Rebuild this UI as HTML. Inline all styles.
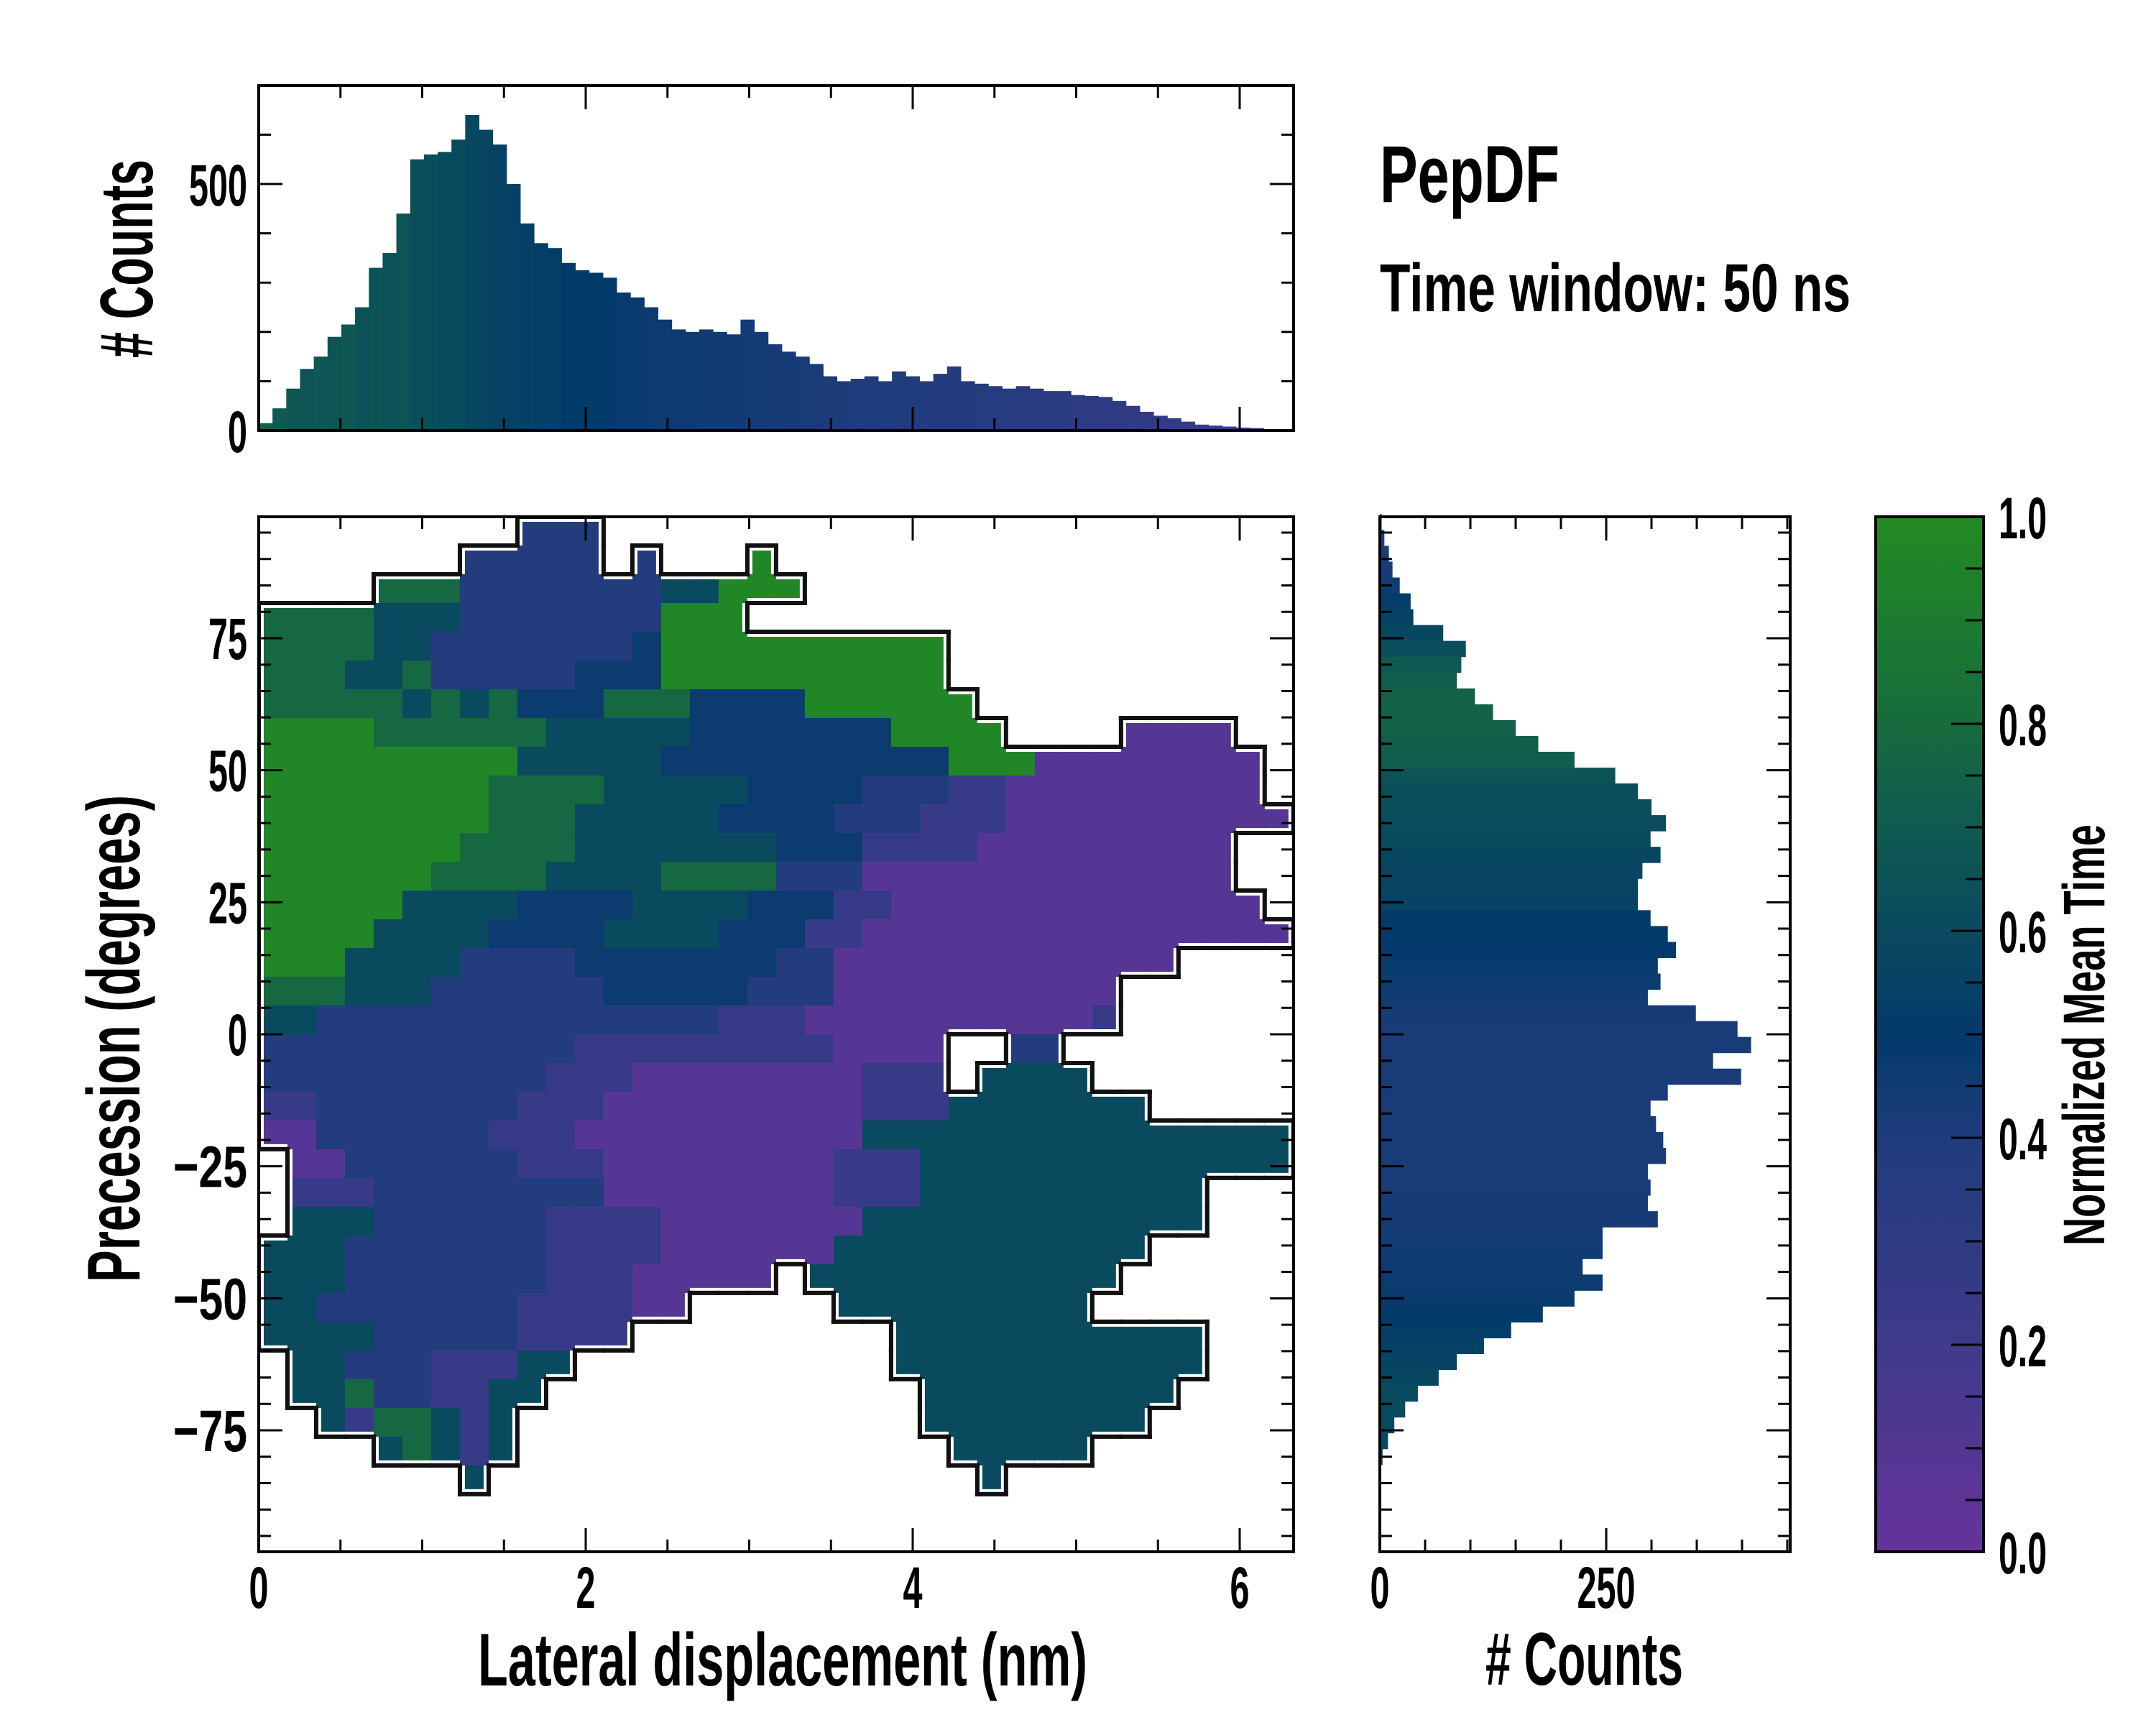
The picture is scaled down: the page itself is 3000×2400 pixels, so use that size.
<!DOCTYPE html>
<html><head><meta charset="utf-8"><style>
html,body{margin:0;padding:0;background:#fff;}
svg{display:block;}
text{font-family:"Liberation Sans Narrow","Liberation Sans",sans-serif;font-weight:bold;fill:#000;}
</style></head><body>
<svg id="fig" xmlns="http://www.w3.org/2000/svg" width="3000" height="2400" viewBox="0 0 3000 2400">
<defs>
<linearGradient id="cmap" x1="0" y1="1" x2="0" y2="0">
<stop offset="0" stop-color="#66339a"/><stop offset="0.2" stop-color="#3f3a8a"/><stop offset="0.4" stop-color="#1f3c7c"/><stop offset="0.5" stop-color="#023a6a"/><stop offset="0.6" stop-color="#0a4a5e"/><stop offset="0.7" stop-color="#0f5a50"/><stop offset="0.8" stop-color="#176b3d"/><stop offset="1" stop-color="#228b22"/>
</linearGradient>
</defs>
<g id="heat"></g>
<g id="edgesw"></g>
<g id="edges"></g>
<g id="tophist"></g>
<g id="righthist"></g>
<rect x="2610" y="719" width="150" height="1440" fill="url(#cmap)" stroke="#000" stroke-width="4"/>
<g id="axes"></g>
<text x="1920" y="281" font-size="112" textLength="250" lengthAdjust="spacingAndGlyphs">PepDF</text>
<text x="1920" y="433" font-size="95" textLength="655" lengthAdjust="spacingAndGlyphs">Time window: 50 ns</text>
<text x="665" y="2345" font-size="104" textLength="848" lengthAdjust="spacingAndGlyphs">Lateral displacement (nm)</text>
<text x="2067" y="2344" font-size="104" textLength="275" lengthAdjust="spacingAndGlyphs"># Counts</text>
<text transform="translate(194,1784) rotate(-90)" font-size="104" textLength="678" lengthAdjust="spacingAndGlyphs">Precession (degrees)</text>
<text transform="translate(212,498) rotate(-90)" font-size="104" textLength="276" lengthAdjust="spacingAndGlyphs"># Counts</text>
<text transform="translate(2928,1733) rotate(-90)" font-size="82" textLength="586" lengthAdjust="spacingAndGlyphs">Normalized Mean Time</text>
</svg>
<script>
// ---- data ----
const gridRows = [
".........nnn........................",
".......nnnnn.n...g..................",
"....GGGnnnnnnnttggg.................",
"GGGGtttnnnnnnnggg...................",
"GGGGttnnnnnnnbgggggggggg............",
"GGGttGnnnnnbbbgggggggggg............",
"GGGGGtGtGbbbGGGbbbbgggggg...........",
"ggggGGGGGGtttttbbbbbbbgggg....pppp..",
"gggggggggtttttbbbbbbbbbbgggpppppppp.",
"ggggggggGGGGtttttbbbbnnnvvppppppppp.",
"ggggggggGGGtttttbbbbnnnvvvpppppppppp",
"gggggggGGGGtttttttbbbvvvvppppppppp..",
"ggggggGGGGttttGGGGnnnppppppppppppp..",
"gggggttttbbbbttttbbbvvppppppppppppp.",
"ggggttttbbbbttttbbbvvppppppppppppppp",
"gggttttnnnnbbbbbbbnnpppppppppppp....",
"GGGtttnnnnnnbbbbbnnnpppppppppp......",
"ttnnnnnnnnnnnnnnvvvppppppppppv......",
"nnnnnnnnnnnvvvvvvvvvpppp..nn........",
"nnnnnnnnnnvvvppppppppvvv.tttt.......",
"vvnnnnnnnvvvpppppppppvvvttttttt.....",
"ppnnnnnnvvvppppppppppttttttttttttttt",
".ppnnnnnnvvvppppppppvvvttttttttttttt",
".vvvnnnnnnnnppppppppvvvtttttttttt...",
".tttnnnnnnvvvvppppppptttttttttttt....",
"tttnnnnnnnvvvvppppppttttttttttt.....",
"tttnnnnnnnvvvppppp.ttttttttttt......",
"ttnnnnnnnvvvvpp.....ttttttttt.......",
"ttttnnnnnvvvv.........ttttttttttt...",
".ttnnnvvvtt...........ttttttttttt...",
".ttGnnvvtt.............ttttttttt....",
"..tvGGtvt..............tttttttt.....",
"....tGtvt...............ttttt.......",
".......t.................t..........",
"....................................",
"...................................."
];
const levelValues = {p:0.08, v:0.25, n:0.38, b:0.47, t:0.6, G:0.78, g:0.97};
const cellNm = 0.1758, cellDeg = 5.444;

const topCounts = [15,45,85,125,150,190,215,250,330,360,440,550,560,565,590,640,610,580,500,420,380,370,340,325,320,310,280,270,250,225,205,200,205,200,195,225,200,175,160,150,135,110,100,105,110,100,120,110,100,115,130,100,95,90,85,90,85,80,80,72,70,68,60,50,38,30,25,18,12,10,8,6,5,3];
const topMeanTime = [0.72,0.7,0.68,0.66,0.68,0.66,0.68,0.64,0.66,0.64,0.66,0.63,0.62,0.6,0.6,0.58,0.57,0.55,0.54,0.53,0.52,0.52,0.5,0.5,0.5,0.49,0.48,0.48,0.47,0.47,0.46,0.46,0.45,0.45,0.45,0.44,0.44,0.43,0.43,0.42,0.42,0.41,0.41,0.4,0.4,0.4,0.39,0.39,0.38,0.38,0.37,0.37,0.36,0.36,0.35,0.35,0.34,0.34,0.33,0.32,0.32,0.31,0.3,0.3,0.29,0.28,0.27,0.26,0.25,0.25,0.24,0.24,0.23,0.22];
const topBinNm = 0.0842;

const rightCenters = [97,94,91,88,85,82,79,76,73,70,67,64,61,58,55,52,49,46,43,40,37,34,31,28,25,22,19,16,13,10,7,4,1,-2,-5,-8,-11,-14,-17,-20,-23,-26,-29,-32,-35,-38,-41,-44,-47,-50,-53,-56,-59,-62,-65,-68,-71,-74,-77,-80];
const rightCounts = [2,5,10,14,22,34,37,70,95,90,85,105,125,150,175,215,260,285,300,316,299,310,290,285,285,299,318,327,307,310,296,349,395,410,368,399,318,299,305,313,316,296,299,296,307,246,246,224,246,215,180,145,115,85,65,42,28,16,9,3];
const rightMeanTime = [0.4,0.4,0.42,0.42,0.45,0.52,0.55,0.58,0.62,0.7,0.72,0.74,0.75,0.74,0.73,0.72,0.66,0.63,0.62,0.61,0.6,0.58,0.57,0.57,0.56,0.5,0.5,0.49,0.48,0.47,0.45,0.43,0.42,0.42,0.42,0.42,0.42,0.42,0.42,0.42,0.42,0.42,0.42,0.43,0.43,0.44,0.45,0.46,0.47,0.48,0.5,0.52,0.54,0.56,0.58,0.6,0.6,0.6,0.58,0.58];
const rightBinDeg = 3;

const xTickLabels = ["0","2","4","6"];
const yTickLabels = ["−75","−50","−25","0","25","50","75"];
const topTickLabels = ["0","500"];
const rightTickLabels = ["0","250"];
const cbarTickLabels = ["0.0","0.2","0.4","0.6","0.8","1.0"];

// ---- scales ----
const X0=360, X1=1800, Y0=719, Y1=2159;
const TY0=119, TY1=599;
const xMain = v => X0 + v*227.5;
const yMain = d => 1439 - d*7.347;
const yTop = c => TY1 - c*0.686;
const xRight = c => 1920 + c*1.26;
const yCbar = t => Y1 - t*(Y1-Y0);

const stops=[[0,[0x66,0x33,0x9a]],[0.2,[0x3f,0x3a,0x8a]],[0.4,[0x1f,0x3c,0x7c]],[0.5,[0x02,0x3a,0x6a]],[0.6,[0x0a,0x4a,0x5e]],[0.7,[0x0f,0x5a,0x50]],[0.8,[0x17,0x6b,0x3d]],[1,[0x22,0x8b,0x22]]];
function cmap(t){t=Math.max(0,Math.min(1,t));for(let i=1;i<stops.length;i++){if(t<=stops[i][0]){const a=stops[i-1],b=stops[i];const f=(t-a[0])/(b[0]-a[0]);const c=a[1].map((v,k)=>Math.round(v+(b[1][k]-v)*f));return `rgb(${c[0]},${c[1]},${c[2]})`;}}return 'rgb(34,139,34)';}

const NS="http://www.w3.org/2000/svg";
function mk(tag,attrs,parent){const e=document.createElementNS(NS,tag);for(const k in attrs)e.setAttribute(k,attrs[k]);parent.appendChild(e);return e;}

// ---- heatmap ----
const heat=document.getElementById('heat');
const edges=document.getElementById('edges');
const edgesw=document.getElementById('edgesw');
const filled=(r,c)=>r>=0&&r<gridRows.length&&c>=0&&c<gridRows[r].length&&gridRows[r][c]!=='.';
gridRows.forEach((row,r)=>{
  for(let c=0;c<row.length;c++){
    const ch=row[c]; if(ch==='.')continue;
    const x=xMain(c*cellNm), y=yMain(98-r*cellDeg);
    const w=xMain((c+1)*cellNm)-x, h=yMain(98-(r+1)*cellDeg)-y;
    const cell=mk('rect',{x:x,y:y,width:w+0.6,height:h+0.6,fill:cmap(levelValues[ch])},heat);
    
    
    const segs=[];
    if(!filled(r-1,c))segs.push([x,y,x+w,y,0,5]);
    if(!filled(r+1,c))segs.push([x,y+h,x+w,y+h,0,-5]);
    if(!filled(r,c-1))segs.push([x,y,x,y+h,5,0]);
    if(!filled(r,c+1))segs.push([x+w,y,x+w,y+h,-5,0]);
    segs.forEach(s=>{
      const wl=mk('line',{x1:s[0]+s[4],y1:s[1]+s[5],x2:s[2]+s[4],y2:s[3]+s[5],stroke:'#fff','stroke-width':4},edgesw);
      
      
      const ln=mk('line',{x1:s[0],y1:s[1],x2:s[2],y2:s[3],stroke:'#111','stroke-width':6,'stroke-linecap':'square'},edges);
      
      
    });
  }
});
const cp=mk('clipPath',{id:'mainclip'},document.querySelector('defs'));
mk('rect',{x:X0,y:Y0,width:X1-X0,height:Y1-Y0},cp);
heat.setAttribute('clip-path','url(#mainclip)');
edges.setAttribute('clip-path','url(#mainclip)');
edgesw.setAttribute('clip-path','url(#mainclip)');

// ---- top histogram ----
const th=document.getElementById('tophist');
topCounts.forEach((v,i)=>{
  const x=xMain(i*topBinNm), x2=xMain((i+1)*topBinNm);
  const b=mk('rect',{x:x,y:yTop(v),width:x2-x+0.5,height:yTop(0)-yTop(v),fill:cmap(topMeanTime[i])},th);
  
  
});
// ---- right histogram ----
const rh=document.getElementById('righthist');
rightCounts.forEach((v,i)=>{
  const yA=yMain(rightCenters[i]+rightBinDeg/2), yB=yMain(rightCenters[i]-rightBinDeg/2);
  const b=mk('rect',{x:xRight(0),y:yA,width:xRight(v)-xRight(0),height:yB-yA+0.5,fill:cmap(rightMeanTime[i])},rh);
  
  
});

// ---- axes ----
const ax=document.getElementById('axes');
function frame(x0,y0,x1,y1,name){const f=mk('rect',{x:x0,y:y0,width:x1-x0,height:y1-y0,fill:'none',stroke:'#000','stroke-width':4},ax);}
function tick(x1,y1,x2,y2){const t=mk('line',{x1:x1,y1:y1,x2:x2,y2:y2,stroke:'#000','stroke-width':3},ax);}
function label(txt,x,y,anchor,size,name){const w=txt.length*27+(txt.includes('−')?22:0)-(txt.includes('.')?14:0);const t=mk('text',{x:x,y:y,'font-size':size,'text-anchor':anchor,textLength:w,lengthAdjust:'spacingAndGlyphs'},ax);t.textContent=txt;}
function xTicks(y0,y1){for(let v=0;v<=6.3;v+=0.5){const X=xMain(v);const L=(Math.abs(v%2)<1e-6)?33:17;tick(X,y1,X,y1-L);tick(X,y0,X,y0+L);}}
function yTicks(x0,x1,y0,y1){for(let d=-95;d<=95;d+=5){const Y=yMain(d);if(Y<y0||Y>y1)continue;const L=(d%25===0)?33:17;tick(x0,Y,x0+L,Y);tick(x1,Y,x1-L,Y);}}

frame(X0,TY0,X1,TY1,'top-hist-frame');
frame(X0,Y0,X1,Y1,'main-plot-frame');
frame(1920,Y0,2491,Y1,'right-hist-frame');
xTicks(Y0,Y1);xTicks(TY0,TY1);
yTicks(X0,X1,Y0,Y1);
yTicks(1920,2491,Y0,Y1);
for(let c=0;c<=690;c+=100){const Y=yTop(c);if(Y<TY0+5)continue;const L=(c%500===0)?33:17;tick(X0,Y,X0+L,Y);tick(X1,Y,X1-L,Y);}
for(let c=0;c<=450;c+=50){const X=xRight(c);const L=(c%250===0)?33:17;tick(X,Y1,X,Y1-L);tick(X,Y0,X,Y0+L);}
for(let t=0.05;t<1;t+=0.05){const Y=yCbar(t);const major=Math.abs(t*5-Math.round(t*5))<1e-6;tick(2760,Y,2760-(major?45:25),Y);}

xTickLabels.forEach(s=>label(s,xMain(+s),2237,'middle',82,'x-tick-label'));
yTickLabels.forEach(s=>label(s,344,yMain(+s.replace('−','-'))+29,'end',82,'y-tick-label'));
topTickLabels.forEach(s=>label(s,344,yTop(+s)+30,'end',82,'top-hist-tick-label'));
rightTickLabels.forEach(s=>label(s,xRight(+s),2237,'middle',82,'right-hist-tick-label'));
cbarTickLabels.forEach(s=>label(s,2781,yCbar(+s)+30,'start',82,'colorbar-tick-label'));
</script>
</body></html>
